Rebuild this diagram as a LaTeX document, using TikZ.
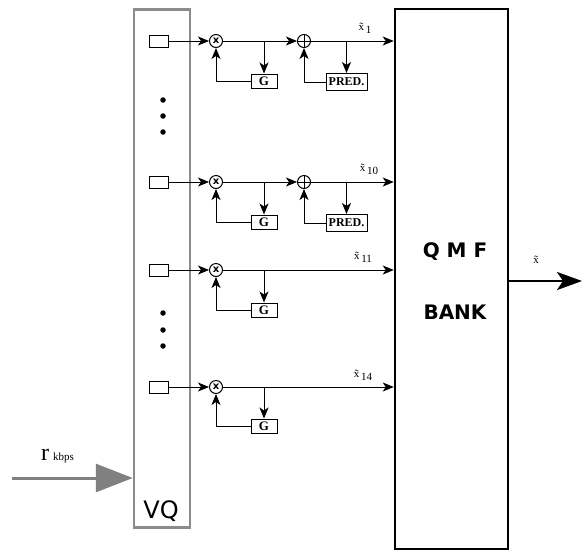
\documentclass[tikz,border=0pt]{standalone}
\usepackage{fontspec}
\setmainfont{Liberation Serif}
\newfontfamily\dejavu{DejaVu Sans}
\usetikzlibrary{positioning,arrows.meta,calc}

\begin{document}
\begin{tikzpicture}[
  x=1pt, y=-1pt, >=Stealth,
  arr/.style={->, line width=1pt, >={Stealth[length=11pt,width=9pt,inset=3pt]}},
  src/.style={draw, line width=1pt, minimum width=19pt, minimum height=12pt, inner sep=0pt},
  mult/.style={draw, circle, line width=1pt, minimum size=13pt, inner sep=0pt,
               font=\dejavu\bfseries\fontsize{10}{10}\selectfont},
  add/.style={draw, circle, line width=1pt, minimum size=13pt, inner sep=0pt,
              path picture={\draw[line width=0.9pt]
                (path picture bounding box.north) -- (path picture bounding box.south)
                (path picture bounding box.west) -- (path picture bounding box.east);}},
  gain/.style={draw, line width=1pt, minimum width=26pt, minimum height=14pt, inner sep=0pt,
               font=\bfseries\fontsize{13}{13}\selectfont},
  pred/.style={draw, line width=1pt, minimum width=41pt, minimum height=17pt, inner sep=0pt,
               font=\bfseries\fontsize{12}{12}\selectfont},
  lbl/.style={inner sep=0pt, font=\fontsize{11}{11}\selectfont},
  dot/.style={circle, fill, minimum size=5.5pt, inner sep=0pt},
  big/.style={font=\dejavu\bfseries\fontsize{20}{20}\selectfont},
]
\useasboundingbox (0,0) rectangle (588,550);

% main blocks
\node[draw=black!45, line width=2.5pt, minimum width=56pt, minimum height=518pt] (vq) at (162,268.5) {};
\node[draw, line width=2.5pt, minimum width=113pt, minimum height=540pt] (qmf) at (451.5,279) {};
\node[font=\dejavu\fontsize{24}{24}\selectfont] (vqtxt) at (161,511) {VQ};
\node[big] (qmftxt) at (455,252) {Q M F};
\node[big] (bank) at (455,312) {BANK};

% band 1
\node[src] (s1) at (158.5,41) {};
\node[mult] (m1) at (216,41) {x};
\node[add] (p1) at (304,41) {};
\node[gain] (g1) at (264,81) {G};
\node[pred] (pr1) at (346.5,82) {PRED.};
\node[lbl] (x1) at (365,28) {\~x\,\raisebox{-3pt}{1}};

% band 10
\node[src] (s2) at (158.5,182) {};
\node[mult] (m2) at (216,182) {x};
\node[add] (p2) at (304,182) {};
\node[gain] (g2) at (264,222) {G};
\node[pred] (pr2) at (346.5,223) {PRED.};
\node[lbl] (x2) at (369,169) {\~x\,\raisebox{-3pt}{10}};

% band 11
\node[src] (s3) at (158.5,270) {};
\node[mult] (m3) at (216,270) {x};
\node[gain] (g3) at (264,310) {G};
\node[lbl] (x3) at (363,257) {\~x\,\raisebox{-3pt}{11}};

% band 14
\node[src] (s4) at (158.5,387) {};
\node[mult] (m4) at (216,387) {x};
\node[gain] (g4) at (264,426) {G};
\node[lbl] (x4) at (363,375) {\~x\,\raisebox{-3pt}{14}};

% dots
\node[dot] (d1) at (163,100) {};
\node[dot] (d2) at (163,116) {};
\node[dot] (d3) at (163,132) {};
\node[dot] (d4) at (163,313) {};
\node[dot] (d5) at (163,330) {};
\node[dot] (d6) at (163,346) {};

% connections
\draw[arr] (s1) -- (m1);
\draw[arr] (m1) -- (p1);
\draw[arr] (p1) -- (p1 -| qmf.west);
\draw[arr] (g1.north |- m1) -- (g1.north);
\draw[arr] (g1.west) -| (m1.south);
\draw[arr] (pr1.north |- p1) -- (pr1.north);
\draw[arr] (pr1.west) -| (p1.south);

\draw[arr] (s2) -- (m2);
\draw[arr] (m2) -- (p2);
\draw[arr] (p2) -- (p2 -| qmf.west);
\draw[arr] (g2.north |- m2) -- (g2.north);
\draw[arr] (g2.west) -| (m2.south);
\draw[arr] (pr2.north |- p2) -- (pr2.north);
\draw[arr] (pr2.west) -| (p2.south);

\draw[arr] (s3) -- (m3);
\draw[arr] (m3) -- (m3 -| qmf.west);
\draw[arr] (g3.north |- m3) -- (g3.north);
\draw[arr] (g3.west) -| (m3.south);

\draw[arr] (s4) -- (m4);
\draw[arr] (m4) -- (m4 -| qmf.west);
\draw[arr] (g4.north |- m4) -- (g4.north);
\draw[arr] (g4.west) -| (m4.south);

% input and output
\coordinate (rin) at (12,478);
\draw[black!50, line width=3pt, -{Triangle[length=37pt,width=28pt]}] (rin) -- (rin -| vq.west);
\node[anchor=base west, inner sep=0pt] (rate) at (41,460)
  {\fontsize{24}{24}\selectfont r\,\fontsize{11}{11}\selectfont kbps};

\coordinate (xout) at (582,281);
\draw[line width=2.5pt, -{Stealth[length=25pt,width=18pt,inset=6pt]}] (qmf.east |- xout) -- (xout);
\node[lbl] (xhat) at (536,260) {\~x};
\end{tikzpicture}
\end{document}
